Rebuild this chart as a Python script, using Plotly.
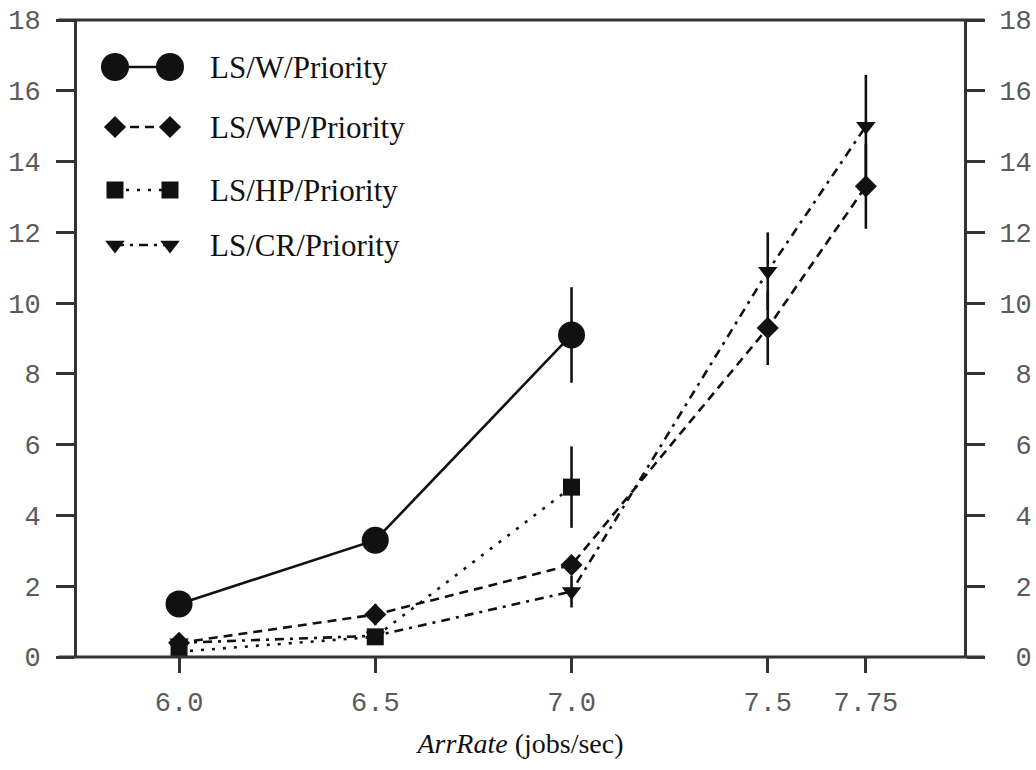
import plotly.graph_objects as go

# Arrival rate (jobs/sec) and mean response values for each policy
arr_rate = [6.0, 6.5, 7.0, 7.5, 7.75]

w_x = [6.0, 6.5, 7.0]
w_y = [1.5, 3.3, 9.1]
w_err = [0.0, 0.0, 1.35]

wp_x = [6.0, 6.5, 7.0, 7.5, 7.75]
wp_y = [0.4, 1.2, 2.6, 9.3, 13.3]
wp_err = [0.0, 0.3, 0.0, 1.05, 1.2]

hp_x = [6.0, 6.5, 7.0]
hp_y = [0.15, 0.57, 4.8]
hp_err = [0.1, 0.0, 1.15]

cr_x = [6.0, 6.5, 7.0, 7.5, 7.75]
cr_y = [0.4, 0.6, 1.85, 10.9, 15.0]
cr_err = [0.1, 0.0, 0.45, 1.1, 1.45]

series_names = ["LS/W/Priority", "LS/WP/Priority", "LS/HP/Priority", "LS/CR/Priority"]
x_tick_labels = ["6.0", "6.5", "7.0", "7.5", "7.75"]
y_ticks = list(range(0, 19, 2))

INK = "#111111"
AXIS = "#333333"
SERIF = "Liberation Serif, Times New Roman, serif"
TICKFONT = dict(family="Liberation Mono, Courier New, monospace", size=27, color="#5a5a5a")

styles = [
    dict(dash="solid", symbol="circle", size=27),
    dict(dash="9px,6px", symbol="diamond", size=17),
    dict(dash="3px,8px", symbol="square", size=17),
    dict(dash="9px,6px,3px,6px", symbol="triangle-down", size=17),
]
data = [(w_x, w_y, w_err), (wp_x, wp_y, wp_err), (hp_x, hp_y, hp_err), (cr_x, cr_y, cr_err)]

fig = go.Figure()
for name, (xs, ys, es), st in zip(series_names, data, styles):
    fig.add_trace(go.Scatter(
        x=xs, y=ys, name=name, mode="lines+markers",
        line=dict(color=INK, width=2.6, dash=st["dash"]),
        marker=dict(symbol=st["symbol"], size=st["size"], color=INK),
        error_y=dict(type="data", array=es, visible=True, width=0, thickness=2.6, color=INK),
        showlegend=False,
    ))

# Hidden trace so the right-hand axis is rendered
fig.add_trace(go.Scatter(x=[None], y=[None], yaxis="y2", showlegend=False, hoverinfo="skip"))

# Legend keys drawn on a helper axis measured in plot-area pixels
key_x = [38, 93]
key_y = [590, 530, 467, 412]
for name, st, ky in zip(series_names, styles, key_y):
    fig.add_trace(go.Scatter(
        x=key_x, y=[ky, ky], xaxis="x3", yaxis="y3", mode="lines+markers",
        line=dict(color=INK, width=2.6, dash=st["dash"]),
        marker=dict(symbol=st["symbol"], size=st["size"] if st["symbol"] != "circle" else 28, color=INK),
        showlegend=False, hoverinfo="skip",
    ))
    fig.add_annotation(
        x=131, y=ky, xref="x3", yref="y3", text=name, showarrow=False,
        xanchor="left", yanchor="middle",
        font=dict(family=SERIF, size=31, color=INK),
    )

def pad(v):
    s = str(v)
    return "\u00a0" + s if len(s) < 2 else s

fig.update_layout(
    width=1036, height=770,
    margin=dict(l=77, r=72, t=20, b=113),
    paper_bgcolor="white", plot_bgcolor="white",
    xaxis=dict(
        range=[5.74, 8.0], tickvals=arr_rate, ticktext=x_tick_labels,
        showgrid=False, zeroline=False, showline=False, automargin=False,
        ticks="outside", ticklen=15, tickwidth=2.5, tickcolor=AXIS,
        tickfont=TICKFONT, ticklabelstandoff=6,
        title=dict(text="<i>ArrRate</i> (jobs/sec)",
                   font=dict(family=SERIF, size=28, color=INK),
                   standoff=14),
    ),
    yaxis=dict(
        range=[0, 18], tickvals=y_ticks, ticktext=[str(v) for v in y_ticks],
        showgrid=False, zeroline=False, showline=True, linewidth=3, linecolor=AXIS,
        automargin=False,
        ticks="outside", ticklen=18, tickwidth=3, tickcolor=AXIS,
        tickfont=TICKFONT, ticklabelstandoff=10,
    ),
    yaxis2=dict(
        range=[0, 18], tickvals=y_ticks, ticktext=[pad(v) for v in y_ticks],
        overlaying="y", side="right", automargin=False,
        showgrid=False, zeroline=False, showline=True, linewidth=3, linecolor=AXIS,
        ticks="outside", ticklen=18, tickwidth=3, tickcolor=AXIS,
        tickfont=TICKFONT, ticklabelstandoff=9,
    ),
    xaxis3=dict(range=[0, 887], overlaying="x", visible=False, fixedrange=True),
    yaxis3=dict(range=[0, 637], overlaying="y", visible=False, fixedrange=True),
    shapes=[
        dict(type="line", xref="paper", yref="paper", x0=-0.021, x1=1.023, y0=1, y1=1,
             line=dict(color=AXIS, width=3)),
        dict(type="line", xref="paper", yref="paper", x0=-0.021, x1=1.023, y0=0, y1=0,
             line=dict(color=AXIS, width=3)),
    ],
)

fig.write_html("out.html")
